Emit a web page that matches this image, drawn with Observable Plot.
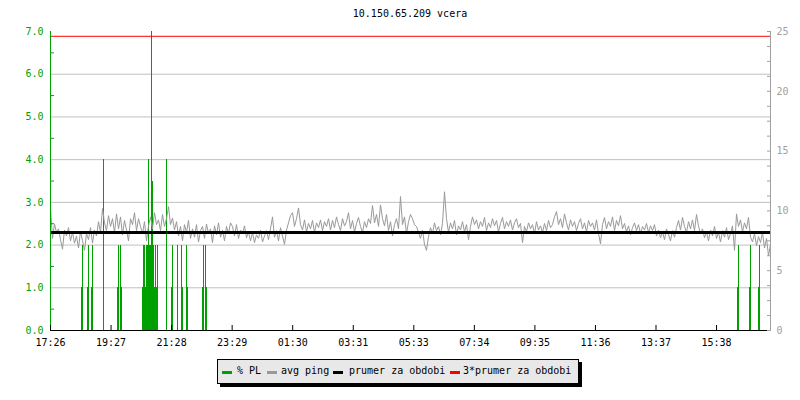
<!DOCTYPE html>
<html><head><meta charset="utf-8">
<script src="https://cdn.jsdelivr.net/npm/d3@7"></script>
<script src="https://cdn.jsdelivr.net/npm/@observablehq/plot@0.6"></script>
<style>
body{margin:0;background:#fff;}
#wrap{position:relative;width:800px;height:400px;font-family:"DejaVu Sans Mono",monospace;font-size:10px;color:#000;}
#wrap svg{position:absolute;left:0;top:0;}
#title{position:absolute;left:50px;width:720px;top:8px;line-height:12px;text-align:center;}
#legend{position:absolute;left:217px;top:359px;width:360px;height:23px;background:#e8e8e8;border:1px solid #000;box-shadow:3px 3px 0 #000;}
#legend .sw{position:absolute;top:11px;width:10px;height:3px;}
#legend .lb{position:absolute;top:5px;line-height:12px;white-space:pre;}
</style></head><body>
<div id="wrap"><div id="title"></div><div id="legend"></div></div>
<script>
// ---- data ----
const title = "10.150.65.209 vcera";
const xTickLabels = ["17:26","19:27","21:28","23:29","01:30","03:31","05:33","07:34","09:35","11:36","13:37","15:38"];
const xTickStepMin = 121.1;           // minutes between labelled ticks
const spanMin = 1440;                 // 24 h window
// packet loss (%), minute offsets from 17:26
const plMinutes = [62,64,74,76,82,84,106,134,136,140,142,184,186,188,190,192,194,196,198,200,202,204,206,208,210,212,214,232,242,244,254,262,264,272,274,304,306,310,312,1374,1376,1398,1400,1416,1418];
const plValues  = [1,2,1,2,1,2,4,1,2,2,1,1,2,2,1,2,2,4,2,2,7,3.5,2,1,2,1,2,4,1,2,2,2,1,2,1,1,2,2,1,1,2,1,2,1,2];
// avg ping (ms), one sample every 4 minutes
const pingStepMin = 4;
const pingMs = [
10.2,7.7,8.9,8.2,8.5,7.6,6.8,8.4,7.9,8.6,7.5,
8.2,7.3,7.9,6.9,8.3,7.5,6.7,8.1,7.6,8.6,7.3,8.4,7.9,9.1,8.2,
10.2,9.0,8.35,9.6,8.7,9.35,8.2,9.75,8.5,9.5,8.0,9.2,8.4,7.5,9.35,
8.85,9.85,8.35,9.35,8.7,8.1,9.1,7.5,8.75,9.5,8.5,9.85,8.85,9.25,8.35,
9.7,8.7,9.35,10.35,8.85,9.4,8.4,9.1,7.9,8.7,7.5,8.85,8.2,9.2,7.7,
8.5,7.8,8.85,7.4,8.35,8.7,7.7,8.9,8.1,8.5,7.35,8.75,8.0,9.0,7.8,8.4,7.5,8.7,8.1,9.0,
8.7,7.9,8.85,7.7,8.4,8.1,8.75,7.75,8.25,7.5,8.2,7.35,8.0,7.7,8.4,7.4,7.9,8.35,7.6,8.5,9.5,7.8,8.35,7.5,8.6,7.9,7.2,8.4,
9.0,9.6,9.85,8.7,9.35,10.25,8.85,8.4,9.25,8.25,8.95,8.5,9.2,8.2,9.0,8.6,9.25,8.35,9.1,8.7,9.35,8.4,
9.2,8.6,9.5,8.85,8.35,9.35,8.75,9.1,9.85,8.5,9.2,8.25,8.95,9.45,8.7,8.2,9.1,8.6,9.35,
8.95,10.45,9.0,9.7,8.7,10.5,9.35,8.75,9.7,8.35,9.1,7.9,8.85,9.35,8.5,11.2,8.85,9.5,8.1,9.1,9.7,
9.35,8.85,8.7,8.2,7.7,8.4,7.2,6.7,7.85,8.6,8.1,9.0,8.35,8.7,8.0,8.95,11.6,9.35,
8.2,9.0,8.5,9.2,8.0,8.75,8.4,9.1,8.25,8.85,7.6,8.7,
9.5,8.85,9.25,8.5,9.1,8.7,9.45,8.35,9.0,8.6,9.35,8.75,9.2,8.25,8.95,9.45,8.5,9.1,8.7,9.25,8.4,9.0,9.35,8.6,8.95,7.35,
8.7,8.25,9.0,8.5,8.85,8.1,9.1,8.4,8.75,8.2,8.95,8.35,9.2,8.6,8.85,
9.5,9.95,8.85,9.35,8.6,9.75,9.0,8.4,9.25,8.7,9.1,8.35,8.95,9.35,8.5,9.0,8.25,9.2,8.7,
9.0,8.4,9.25,8.1,7.25,8.85,9.45,8.5,9.1,8.7,9.5,8.35,9.2,8.75,9.6,8.5,
8.95,8.25,8.75,8.0,8.6,9.0,8.35,8.85,8.1,8.7,8.4,8.95,8.2,8.75,8.35,8.85,7.9,
8.4,7.75,8.25,7.6,8.5,8.0,7.5,8.35,7.8,8.6,
9.2,8.4,9.45,8.7,8.2,9.1,8.5,9.25,8.35,9.7,8.75,8.1,
8.5,7.75,8.25,7.5,8.4,7.9,8.7,7.7,8.2,7.4,8.35,7.8,8.6,7.6,8.1,
8.75,6.7,9.75,8.7,9.25,8.25,9.0,8.5,9.45,7.8,
7.4,8.1,7.1,7.85,7.35,8.2,6.9,7.7,6.25,7.2
];
const meanPingMs = 8.2;
const leftTicks = [0,1,2,3,4,5,6,7];
const leftMinorTicks = [0.5,1.5,2.5,3.5,4.5,5.5,6.5];
const gridValues = [1,2,3,4,5,6];
const rightTicks = [0,5,10,15,20,25];
const rightMinorStep = 1.25;
const legendLabels = ["% PL","avg ping","prumer za obdobi","3*prumer za obdobi"];
const colors = {pl:"#00a000", ping:"#999999", mean:"#000000", mean3:"#ff0000", grid:"#c0c0c0", right:"#a0a0a0"};

// ---- derived ----
const K = leftTicks[leftTicks.length-1] / rightTicks[rightTicks.length-1]; // ms -> left units
const pl = plMinutes.map((m,i)=>({m, v: plValues[i]}));
const ping = pingMs.map((v,i)=>({m: i*pingStepMin, y: v*K}));
const xTickMins = xTickLabels.map((l,i)=>i*xTickStepMin);
const xLabelOf = new Map(xTickMins.map((m,i)=>[m, xTickLabels[i]]));
const rightMinor = d3.range(0, rightTicks[rightTicks.length-1]+0.001, rightMinorStep).map(v=>v*K);

const chart = Plot.plot({
  width: 800, height: 350,
  marginLeft: 50, marginRight: 30, marginTop: 31, marginBottom: 20,
  x: {domain: [0, spanMin]},
  y: {domain: [0, 7]},
  style: {fontFamily: "DejaVu Sans Mono", fontSize: "10px", background: "transparent", overflow: "visible"},
  marks: [
    Plot.ruleY(gridValues, {stroke: colors.grid, strokeWidth: 1}),
    Plot.rect(pl, {x1: "m", x2: d => d.m + 2, y1: 0, y2: "v", fill: colors.pl, shapeRendering: "crispEdges"}),
    Plot.line(ping, {x: "m", y: "y", stroke: colors.ping, strokeWidth: 1, curve: "linear"}),
    Plot.ruleY([meanPingMs*K], {stroke: colors.mean, strokeWidth: 3}),
    Plot.ruleY([3*meanPingMs*K], {stroke: colors.mean3, strokeWidth: 1}),
    // axis lines
    Plot.ruleX([0], {y1: 0, y2: 7, stroke: colors.pl}),
    Plot.ruleX([spanMin], {y1: 0, y2: 7, stroke: colors.right}),
    Plot.ruleY([0], {stroke: "#000"}),
    // inward ticks
    Plot.axisY(leftMinorTicks, {anchor: "left", tickSize: 4, dx: 4, tickFormat: () => "", stroke: colors.pl, label: null}),
    Plot.axisY(rightMinor, {anchor: "right", tickSize: 4, dx: -4, tickFormat: () => "", stroke: colors.right, label: null}),
    Plot.axisX(xTickMins, {anchor: "bottom", tickSize: 5, dy: -5, tickFormat: () => "", stroke: "#000", label: null}),
    // tick labels
    Plot.axisY(leftTicks, {anchor: "left", tickSize: 0, tickPadding: 7, tickFormat: d => d.toFixed(1), fill: colors.pl, label: null}),
    Plot.axisY(rightTicks.map(v => v*K), {anchor: "right", tickSize: 0, tickPadding: 6, tickFormat: d => String(Math.round(d/K)), fill: colors.right, label: null}),
    Plot.axisX(xTickMins, {anchor: "bottom", tickSize: 0, tickPadding: 8, tickFormat: d => xLabelOf.get(d), fill: "#000", label: null})
  ]
});
const wrap = document.getElementById("wrap");
wrap.insertBefore(chart, wrap.firstChild);
document.getElementById("title").textContent = title;

// legend
const legend = document.getElementById("legend");
const legendColors = [colors.pl, colors.ping, colors.mean, colors.mean3];
const swLeft = [4, 49, 115, 232];
const lbLeft = [19, 63, 131, 245];
legendLabels.forEach((t,i)=>{
  const s = document.createElement("div"); s.className = "sw";
  s.style.left = swLeft[i] + "px"; s.style.background = legendColors[i];
  legend.appendChild(s);
  const l = document.createElement("div"); l.className = "lb";
  l.style.left = lbLeft[i] + "px"; l.textContent = t;
  legend.appendChild(l);
});
</script>
</body></html>
